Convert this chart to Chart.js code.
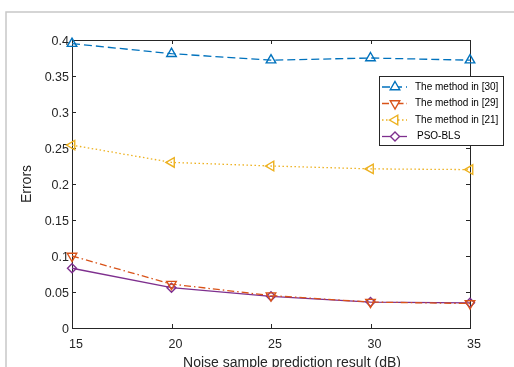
<!DOCTYPE html>
<html>
<head>
<meta charset="utf-8">
<script src="https://cdn.jsdelivr.net/npm/chart.js@4/dist/chart.umd.min.js"></script>
<style>
  html, body { margin: 0; padding: 0; background: #fff; }
  #wrap { width: 514px; height: 367px; position: relative; }
</style>
</head>
<body>
<div id="wrap"><canvas id="c" width="514" height="367"></canvas></div>
<script>
// SNR levels (dB) and prediction errors of each method
const snr = [15, 20, 25, 30, 35];
const method30 = [0.395, 0.381, 0.372, 0.375, 0.372];
const method29 = [0.100, 0.061, 0.045, 0.036, 0.034];
const method21 = [0.254, 0.230, 0.225, 0.221, 0.220];
const psoBls   = [0.083, 0.056, 0.044, 0.036, 0.035];

const seriesNames = ['The method in [30]', 'The method in [29]', 'The method in [21]', 'PSO-BLS'];
const xTicks = [15, 20, 25, 30, 35];
const yTicks = [0, 0.05, 0.1, 0.15, 0.2, 0.25, 0.3, 0.35, 0.4];
const xTitle = 'Noise sample prediction result (dB)';
const yTitle = 'Errors';

const FONT = '"Liberation Sans", Arial, Helvetica, sans-serif';
const AXIS = '#262626';

const styles = [
  { color: '#0072BD', dash: [8, 4],            point: 'triangle', rot: 0,   r: 5.5 },
  { color: '#D95319', dash: [7, 3, 1.5, 3],    point: 'triangle', rot: 180, r: 5.5 },
  { color: '#EDB120', dash: [1.5, 2.5],        point: 'triangle', rot: 270, r: 5.5 },
  { color: '#7E2F8E', dash: [],                point: 'rectRot',  rot: 0,   r: 4.5 }
];
const values = [method30, method29, method21, psoBls];

const datasets = values.map((vals, i) => ({
  label: seriesNames[i],
  data: snr.map((x, k) => ({ x: x, y: vals[k] })),
  borderColor: styles[i].color,
  backgroundColor: 'rgba(0,0,0,0)',
  borderWidth: 1.3,
  borderDash: styles[i].dash,
  pointStyle: styles[i].point,
  pointRotation: styles[i].rot,
  pointRadius: styles[i].r,
  pointBorderWidth: 1.4,
  pointBorderColor: styles[i].color,
  pointBackgroundColor: 'rgba(0,0,0,0)',
  tension: 0,
  clip: false
}));

// Figure frame, axes box with inward ticks, axis titles and legend
const decor = {
  id: 'decor',
  beforeDraw(chart) {
    const ctx = chart.ctx;
    ctx.save();
    ctx.fillStyle = '#fff';
    ctx.fillRect(0, 0, chart.width, chart.height);
    ctx.strokeStyle = '#c8c8c8';
    ctx.lineWidth = 1.5;
    ctx.beginPath();
    ctx.moveTo(6, chart.height);
    ctx.lineTo(6, 12);
    ctx.lineTo(chart.width, 12);
    ctx.stroke();
    ctx.restore();
  },
  beforeDatasetsDraw(chart) {
    const { ctx, chartArea: a, scales } = chart;
    ctx.save();
    ctx.strokeStyle = AXIS;
    ctx.lineWidth = 1;
    ctx.strokeRect(Math.round(a.left) + 0.5, Math.round(a.top) + 0.5,
                   Math.round(a.right - a.left), Math.round(a.bottom - a.top));
    ctx.beginPath();
    xTicks.forEach(v => {
      const px = Math.round(scales.x.getPixelForValue(v)) + 0.5;
      ctx.moveTo(px, a.bottom); ctx.lineTo(px, a.bottom - 4);
      ctx.moveTo(px, a.top); ctx.lineTo(px, a.top + 4);
    });
    yTicks.forEach(v => {
      const py = Math.round(scales.y.getPixelForValue(v)) + 0.5;
      ctx.moveTo(a.left, py); ctx.lineTo(a.left + 4, py);
      ctx.moveTo(a.right, py); ctx.lineTo(a.right - 4, py);
    });
    ctx.stroke();
    ctx.restore();
  },
  afterDraw(chart) {
    const { ctx, chartArea: a } = chart;
    ctx.save();
    // axis titles
    ctx.fillStyle = AXIS;
    ctx.font = '14px ' + FONT;
    ctx.textAlign = 'center';
    ctx.textBaseline = 'middle';
    ctx.fillText(xTitle, 292, 363);
    ctx.translate(27, (a.top + a.bottom) / 2);
    ctx.rotate(-Math.PI / 2);
    ctx.fillText(yTitle, 0, 0);
    ctx.restore();

    // legend
    ctx.save();
    const bx = 379.5, by = 76.5, bw = 124, bh = 69;
    ctx.fillStyle = '#fff';
    ctx.fillRect(bx, by, bw, bh);
    ctx.strokeStyle = AXIS;
    ctx.lineWidth = 1;
    ctx.strokeRect(bx, by, bw, bh);
    const rows = [87, 103.5, 120, 136.5];
    ctx.font = '10px ' + FONT;
    ctx.textAlign = 'left';
    ctx.textBaseline = 'middle';
    styles.forEach((s, i) => {
      const y = rows[i];
      ctx.strokeStyle = s.color;
      ctx.lineWidth = 1.3;
      ctx.setLineDash(s.dash);
      ctx.beginPath();
      ctx.moveTo(382, y); ctx.lineTo(407, y);
      ctx.stroke();
      ctx.setLineDash([]);
      ctx.lineWidth = 1.4;
      ctx.fillStyle = '#fff';
      ctx.strokeStyle = s.color;
      Chart.helpers.drawPoint(ctx, {
        pointStyle: s.point, rotation: s.rot, radius: s.r, borderWidth: 1.4
      }, 395, y);
      ctx.fillStyle = '#000';
      ctx.fillText(seriesNames[i], i === 3 ? 417 : 415, y);
    });
    ctx.restore();
  }
};

new Chart(document.getElementById('c'), {
  type: 'line',
  data: { datasets: datasets },
  options: {
    responsive: false,
    animation: false,
    events: [],
    layout: { padding: { left: 0, top: 40, right: 44, bottom: 0 } },
    plugins: { legend: { display: false }, tooltip: { enabled: false } },
    scales: {
      x: {
        type: 'linear',
        min: 15, max: 35,
        afterFit(scale) { scale.height = 39; },
        afterBuildTicks(scale) { scale.ticks = xTicks.map(v => ({ value: v })); },
        grid: { display: false, drawTicks: false },
        border: { display: false },
        ticks: {
          color: AXIS,
          font: { family: FONT, size: 12.5 },
          padding: 9,
          labelOffset: 4,
          maxRotation: 0,
          callback: v => String(v)
        }
      },
      y: {
        type: 'linear',
        min: 0, max: 0.4,
        afterFit(scale) { scale.width = 72; },
        afterBuildTicks(scale) { scale.ticks = yTicks.map(v => ({ value: v })); },
        grid: { display: false, drawTicks: false },
        border: { display: false },
        ticks: {
          color: AXIS,
          font: { family: FONT, size: 12.5 },
          padding: 3,
          labelOffset: 2,
          callback: v => String(Number(v.toFixed(2)))
        }
      }
    }
  },
  plugins: [decor]
});
</script>
</body>
</html>
